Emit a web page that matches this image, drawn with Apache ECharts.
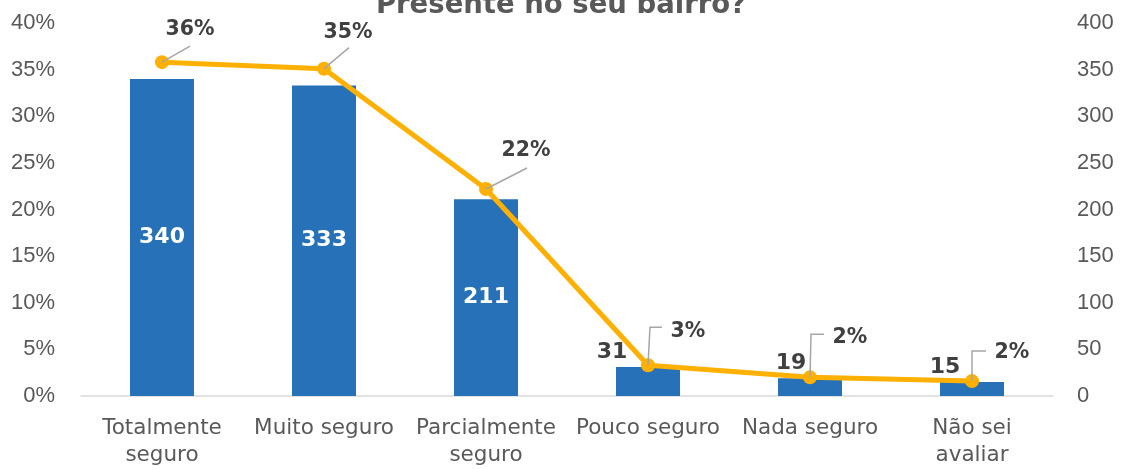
<!DOCTYPE html>
<html>
<head>
<meta charset="utf-8">
<script src="https://cdn.jsdelivr.net/npm/echarts@6/dist/echarts.min.js"></script>
<style>
html,body{margin:0;padding:0;background:#fff;}
#chart{width:1122px;height:469px;}
</style>
</head>
<body>
<div id="chart"></div>
<script>
var categories = ['Totalmente\nseguro', 'Muito seguro', 'Parcialmente\nseguro', 'Pouco seguro', 'Nada seguro', 'Não sei\navaliar'];
var counts = [340, 333, 211, 31, 19, 15];
var percents = [35.8, 35.1, 22.2, 3.3, 2.0, 1.6];
var percentLabels = ['36%', '35%', '22%', '3%', '2%', '2%'];
var leftTicks = ['0%', '5%', '10%', '15%', '20%', '25%', '30%', '35%', '40%'];
var titleText = 'Presente no seu bairro?';

var FONT = 'DejaVu Sans';
var AXFONT = 'Liberation Sans';
var TEXT = '#595959';
var DARK = '#404040';

// label offsets (style)
var pctLabelOffsets = [[28,-32],[24,-36],[40,-38],[40,-34],[40,-40],[40,-28]];
var leaderShapes = [
  [[0,0],[28,-16]],
  [[0,0],[25,-21]],
  [[0,0],[41,-21]],
  [[0,0],[2,-38],[14,-38]],
  [[0,0],[1,-43],[14,-43]],
  [[0,0],[0,-30],[14,-30]]
];
var barLabelOffsets = [null, null, null, [-36,0],[-19,0],[-27,0]];

var chart = echarts.init(document.getElementById('chart'), null, {renderer:'canvas'});

var barData = counts.map(function(v, i){
  var item = {value: v};
  if (barLabelOffsets[i]) {
    item.label = {position:'top', distance:4, offset: barLabelOffsets[i], color: DARK};
  }
  return item;
});

var lineData = percents.map(function(v, i){
  return {value: v, label: {offset: pctLabelOffsets[i]}};
});

var option = {
  animation: false,
  backgroundColor: '#fff',
  graphic: [{
    type: 'text',
    left: 'center',
    top: -8,
    style: {text: titleText, fill: TEXT, font: 'bold 27.5px "' + FONT + '"'}
  }],
  grid: {left: 81, right: 69, top: 23, bottom: 72, containLabel: false},
  xAxis: {
    type: 'category',
    data: categories,
    axisLine: {show: true, lineStyle: {color: '#d9d9d9', width: 1.5}},
    axisTick: {show: false},
    axisLabel: {color: TEXT, fontFamily: FONT, fontSize: 21.5, margin: 19, lineHeight: 27, interval: 0}
  },
  yAxis: [{
    type: 'value', min: 0, max: 40, interval: 5, position: 'left',
    axisLine: {show: false}, axisTick: {show: false}, splitLine: {show: false},
    axisLabel: {color: TEXT, fontFamily: AXFONT, fontSize: 22, margin: 26,
      formatter: function(v){ return leftTicks[Math.round(v/5)]; }}
  }, {
    type: 'value', min: 0, max: 400, interval: 50, position: 'right',
    axisLine: {show: false}, axisTick: {show: false}, splitLine: {show: false},
    axisLabel: {color: TEXT, fontFamily: AXFONT, fontSize: 22, margin: 24}
  }],
  series: [{
    type: 'bar',
    yAxisIndex: 1,
    data: barData,
    barWidth: 64,
    itemStyle: {color: '#2771B8'},
    label: {show: true, position: 'inside', color: '#fff', fontFamily: FONT, fontWeight: 'bold', fontSize: 22},
    z: 2
  }, {
    type: 'line',
    yAxisIndex: 0,
    data: lineData,
    symbol: 'circle',
    symbolSize: 14,
    lineStyle: {color: '#FFB000', width: 5},
    itemStyle: {color: '#FFB000'},
    label: {show: true, position: 'inside', color: DARK, fontFamily: FONT, fontWeight: 'bold', fontSize: 20.5,
      formatter: function(p){ return percentLabels[p.dataIndex]; }},
    z: 3
  }, {
    type: 'custom',
    yAxisIndex: 0,
    data: percents.map(function(v, i){ return [i, v]; }),
    renderItem: function(params, api){
      var p = api.coord([api.value(0), api.value(1)]);
      var pts = leaderShapes[params.dataIndex].map(function(d){ return [p[0]+d[0], p[1]+d[1]]; });
      return {type: 'polyline', shape: {points: pts}, style: {stroke: '#A6A6A6', lineWidth: 1.5, fill: null}};
    },
    z: 4,
    silent: true
  }]
};
chart.setOption(option);
</script>
</body>
</html>
